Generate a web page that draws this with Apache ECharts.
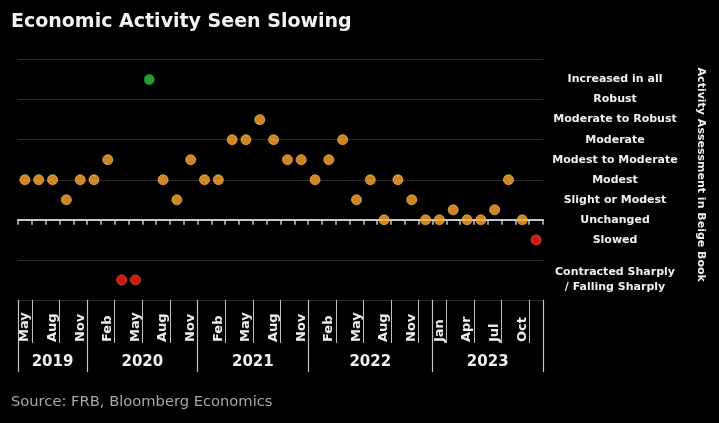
<!DOCTYPE html>
<html>
<head>
<meta charset="utf-8">
<script src="https://cdn.jsdelivr.net/npm/echarts@6/dist/echarts.min.js"></script>
<style>
html,body{margin:0;padding:0;background:#000;}
#c{width:719px;height:423px;}
</style>
</head>
<body>
<div id="c"></div>
<script>
// Beige Book releases (one category per release), grouped by year
const years = ['2019', '2020', '2021', '2022', '2023'];
const releasesPerYear = [5, 8, 8, 9, 8];
const releaseMonths = [
  'May','Jul','Aug','Oct','Nov',
  'Jan','Feb','Apr','May','Jul','Aug','Oct','Nov',
  'Jan','Feb','Apr','May','Jul','Aug','Oct','Nov',
  'Jan','Feb','Apr','May','Jul','Aug','Oct','Nov','Dec',
  'Jan','Mar','Apr','May','Jul','Aug','Oct','Nov'
];
// Indices of releases carrying a month tick label
const labeledReleases = [0,2,4,6,8,10,12,14,16,18,20,22,24,26,28,30,32,34,36];
// Activity assessment level for each release
const activity = [
  2, 2, 2, 1, 2,
  2, 3, -3, -3, 7, 2, 1, 3,
  2, 2, 4, 4, 5, 4, 3, 3,
  2, 3, 4, 1, 2, 0, 2, 1, 0,
  0, 0.5, 0, 0, 0.5, 2, 0, -1
];
// Level scale labels (right side)
const levelValues = [7, 6, 5, 4, 3, 2, 1, 0, -1, -3];
const levelNames = ['Increased in all', 'Robust', 'Moderate to Robust', 'Moderate',
  'Modest to Moderate', 'Modest', 'Slight or Modest', 'Unchanged', 'Slowed',
  'Contracted Sharply\n/ Falling Sharply'];

// ---- derived helpers ----
const categories = releaseMonths.map((m, i) => m + '#' + i);
const yearStarts = [];
const yearCenters = {};
let acc = 0;
releasesPerYear.forEach((n, k) => {
  yearStarts.push(acc);
  yearCenters[(acc + n / 2).toFixed(1)] = years[k];
  acc += n;
});
const labeledSet = new Set(labeledReleases);
const levelMap = {};
levelValues.forEach((v, i) => { levelMap[String(v)] = levelNames[i]; });

const FONT = 'DejaVu Sans';
function fillOf(v) { return v >= 7 ? '#2fc43f' : (v < 0 ? '#ff2015' : '#fca836'); }
function ringOf(v) { return v >= 7 ? '#1f9a2e' : (v < 0 ? '#e0552e' : '#fca836'); }
const pointData = activity.map((v) => ({
  value: v,
  itemStyle: {color: fillOf(v), borderColor: ringOf(v), borderWidth: 1}
}));

const chart = echarts.init(document.getElementById('c'), null, {renderer: 'canvas'});
chart.setOption({
  backgroundColor: '#000',
  animation: false,
  title: [{
    text: 'Economic Activity Seen Slowing',
    left: 6, top: 8,
    textStyle: {color: '#f2f2f2', fontFamily: FONT, fontWeight: 'bold', fontSize: 19}
  }, {
    text: 'Source: FRB, Bloomberg Economics',
    left: 6, top: 390,
    textStyle: {color: '#a8a8a8', fontFamily: FONT, fontWeight: 'normal', fontSize: 14.7}
  }],
  grid: {left: 18, right: 176, top: 59.5, bottom: 123},
  xAxis: [{
    type: 'category', data: categories,
    axisLine: {onZero: true, lineStyle: {color: '#c8c8c8', width: 2}},
    axisTick: {show: true, interval: 0, length: 5, lineStyle: {color: '#c8c8c8', width: 1.5}},
    axisLabel: {show: false},
    splitLine: {show: false}
  }, {
    type: 'category', data: categories, position: 'bottom',
    axisLine: {show: false, onZero: false},
    axisTick: {
      show: true, length: 43,
      interval: (i) => labeledSet.has(i - 1) || yearStarts.indexOf(i) >= 0,
      lineStyle: {color: '#bdbdbd', width: 1}
    },
    axisLabel: {
      show: true, rotate: 90, margin: 42, align: 'left', verticalAlign: 'middle',
      interval: (i) => labeledSet.has(i),
      formatter: (v) => v.split('#')[0],
      color: '#ededed', fontFamily: FONT, fontWeight: 'bold', fontSize: 13
    },
    splitLine: {show: false}
  }, {
    type: 'category', data: categories, position: 'bottom',
    axisLine: {show: false, onZero: false},
    axisTick: {
      show: true, length: 72,
      interval: (i) => yearStarts.indexOf(i) >= 0,
      lineStyle: {color: '#c4c4c4', width: 1.2}
    },
    axisLabel: {show: false},
    splitLine: {show: false}
  }, {
    type: 'value', position: 'bottom', min: 0, max: acc, interval: 0.5,
    axisLine: {show: false, onZero: false},
    axisTick: {show: false},
    splitLine: {show: false},
    axisLabel: {
      show: true, margin: 62, verticalAlign: 'middle',
      showMinLabel: true, showMaxLabel: true,
      formatter: (v) => yearCenters[Number(v).toFixed(1)] || '',
      color: '#f0f0f0', fontFamily: FONT, fontWeight: 'bold', fontSize: 15
    }
  }],
  yAxis: [{
    type: 'value', min: -4, max: 8, interval: 2,
    axisLine: {show: false}, axisTick: {show: false}, axisLabel: {show: false},
    splitLine: {show: true, lineStyle: {color: '#2a2a2a', width: 1}}
  }, {
    type: 'value', min: -4, max: 8, interval: 1, position: 'right',
    axisLine: {show: false}, axisTick: {show: false}, splitLine: {show: false},
    axisLabel: {
      show: true, margin: 72, align: 'center', lineHeight: 15, padding: [4, 0, 0, 0],
      formatter: (v) => levelMap[String(v)] || '',
      color: '#f0f0f0', fontFamily: FONT, fontWeight: 'bold', fontSize: 11
    },
    name: 'Activity Assessment in Beige Book',
    nameLocation: 'middle', nameRotate: -90, nameGap: 152,
    nameTextStyle: {color: '#f0f0f0', fontFamily: FONT, fontWeight: 'bold', fontSize: 11, padding: [0, 10, 0, 0]}
  }],
  series: [{
    type: 'scatter',
    xAxisIndex: 0, yAxisIndex: 0,
    data: pointData,
    symbol: 'circle', symbolSize: 10,
    z: 10
  }]
});
</script>
</body>
</html>
